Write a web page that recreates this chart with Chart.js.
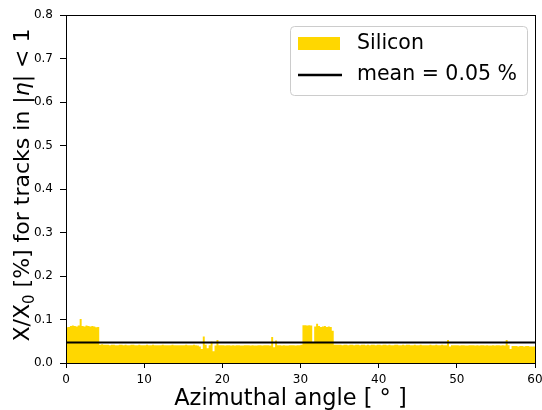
<!DOCTYPE html>
<html>
<head>
<meta charset="utf-8">
<script src="https://cdn.jsdelivr.net/npm/chart.js@4/dist/chart.umd.min.js"></script>
<style>
  html, body { margin: 0; padding: 0; background: #fff; }
  #wrap { width: 542px; height: 410px; }
</style>
</head>
<body>
<div id="wrap"><canvas id="c" width="542" height="410"></canvas></div>
<script>
// Material budget per azimuthal bin (0.25 deg wide), in % of X0
const binWidth = 0.25;
const phiMin = 0;
const phiMax = 60;
const silicon = [
  // 0 - 5 deg
  0.045,0.082,0.083,0.085,0.086,0.085,0.084,0.086,0.101,0.085,0.084,0.086,0.085,0.084,0.085,0.084,0.082,0.083,0.042,0.043,
  // 5 - 10 deg
  0.042,0.042,0.042,0.041,0.042,0.042,0.041,0.041,0.042,0.042,0.041,0.042,0.041,0.041,0.042,0.042,0.041,0.041,0.042,0.041,
  // 10 - 15 deg
  0.041,0.041,0.042,0.041,0.041,0.042,0.041,0.041,0.041,0.041,0.042,0.041,0.041,0.041,0.041,0.042,0.041,0.041,0.041,0.041,
  // 15 - 20 deg
  0.041,0.041,0.042,0.041,0.041,0.041,0.042,0.041,0.040,0.038,0.032,0.061,0.042,0.034,0.041,0.049,0.027,0.040,0.053,0.041,
  // 20 - 25 deg
  0.041,0.041,0.040,0.041,0.041,0.040,0.041,0.040,0.041,0.041,0.040,0.040,0.041,0.041,0.041,0.040,0.041,0.040,0.040,0.041,
  // 25 - 30 deg
  0.041,0.040,0.041,0.041,0.041,0.040,0.060,0.036,0.052,0.041,0.041,0.040,0.041,0.040,0.040,0.041,0.041,0.041,0.040,0.041,
  // 30 - 35 deg
  0.041,0.042,0.087,0.087,0.086,0.087,0.086,0.046,0.084,0.090,0.085,0.083,0.084,0.085,0.083,0.084,0.083,0.074,0.042,0.042,
  // 35 - 40 deg
  0.042,0.042,0.041,0.042,0.042,0.041,0.042,0.042,0.041,0.042,0.042,0.041,0.042,0.042,0.041,0.042,0.041,0.042,0.042,0.041,
  // 40 - 45 deg
  0.042,0.042,0.041,0.042,0.042,0.041,0.042,0.041,0.041,0.042,0.042,0.041,0.041,0.042,0.041,0.042,0.042,0.041,0.041,0.042,
  // 45 - 50 deg
  0.041,0.041,0.042,0.041,0.041,0.041,0.041,0.042,0.041,0.041,0.042,0.041,0.041,0.042,0.041,0.041,0.053,0.038,0.041,0.041,
  // 50 - 55 deg
  0.041,0.041,0.040,0.041,0.041,0.040,0.040,0.041,0.041,0.041,0.040,0.041,0.040,0.041,0.041,0.040,0.041,0.040,0.040,0.041,
  // 55 - 60 deg
  0.040,0.041,0.041,0.040,0.041,0.040,0.053,0.041,0.032,0.039,0.039,0.039,0.038,0.039,0.039,0.038,0.039,0.039,0.038,0.038
];
const yTicks = [0.0, 0.1, 0.2, 0.3, 0.4, 0.5, 0.6, 0.7, 0.8];
const xTicks = [0, 10, 20, 30, 40, 50, 60];

const meanValue = silicon.reduce((a, b) => a + b, 0) / silicon.length;
const meanLabel = 'mean = ' + meanValue.toFixed(2) + ' %';

// step outline: each bin starts at its left edge, closing point at phiMax
const histPoints = silicon.map((v, i) => ({ x: phiMin + i * binWidth, y: v }));
histPoints.push({ x: phiMax, y: silicon[silicon.length - 1] });

const FONT = '"DejaVu Sans", "Liberation Sans", sans-serif';
const GOLD = '#FFD700';

// frame on all four sides of the plot area
const framePlugin = {
  id: 'frame',
  afterDatasetsDraw(chart) {
    const { ctx, chartArea: a } = chart;
    ctx.save();
    ctx.strokeStyle = '#000';
    ctx.lineWidth = 1;
    ctx.strokeRect(Math.round(a.left) + 0.5, Math.round(a.top) + 0.5,
                   Math.round(a.right - a.left), Math.round(a.bottom - a.top));
    ctx.restore();
  }
};

// axis titles: the y title mixes a subscript and an italic eta
const titlePlugin = {
  id: 'axisTitles',
  afterDraw(chart) {
    const { ctx, chartArea: a } = chart;
    ctx.save();
    ctx.fillStyle = '#000';
    ctx.textBaseline = 'alphabetic';

    // x title
    ctx.font = '22.5px ' + FONT;
    ctx.textAlign = 'center';
    ctx.fillText('Azimuthal angle [ ° ]', (a.left + a.right) / 2 - 10, a.bottom + 42);

    // y title, written bottom-to-top
    const main = '22px ' + FONT;
    const sub = '15px ' + FONT;
    const ital = 'italic 22px ' + FONT;
    const parts = [
      { t: 'X/X', f: main, dy: 0 },
      { t: '0', f: sub, dy: 5 },
      { t: ' [%] for tracks in |', f: main, dy: 0 },
      { t: 'η', f: ital, dy: 0 },
      { t: '| < 1', f: main, dy: 0 }
    ];
    let total = 0;
    parts.forEach(p => { ctx.font = p.f; p.w = ctx.measureText(p.t).width; total += p.w; });
    ctx.translate(29, (a.top + a.bottom) / 2 - 4);
    ctx.rotate(-Math.PI / 2);
    ctx.textAlign = 'left';
    let x = -total / 2;
    parts.forEach(p => {
      ctx.font = p.f;
      ctx.fillText(p.t, x, p.dy);
      x += p.w;
    });
    ctx.restore();
  }
};

// legend box in the upper right corner of the plot area
const legendPlugin = {
  id: 'boxLegend',
  afterDraw(chart) {
    const { ctx, chartArea: a } = chart;
    const w = 237, h = 69;
    const x = a.right - 8 - w, y = a.top + 11;
    ctx.save();
    ctx.beginPath();
    ctx.roundRect(x + 0.5, y + 0.5, w, h, 4);
    ctx.fillStyle = 'rgba(255,255,255,0.8)';
    ctx.fill();
    ctx.strokeStyle = '#cccccc';
    ctx.lineWidth = 1;
    ctx.stroke();

    ctx.fillStyle = GOLD;
    ctx.fillRect(x + 8, y + 11, 42, 13);
    ctx.strokeStyle = '#000';
    ctx.lineWidth = 2.5;
    ctx.beginPath();
    ctx.moveTo(x + 8, y + 49);
    ctx.lineTo(x + 52, y + 49);
    ctx.stroke();

    ctx.fillStyle = '#000';
    ctx.font = '20.5px ' + FONT;
    ctx.textBaseline = 'middle';
    ctx.textAlign = 'left';
    ctx.fillText('Silicon', x + 67, y + 18);
    ctx.fillText(meanLabel, x + 67, y + 49);
    ctx.restore();
  }
};

new Chart(document.getElementById('c'), {
  type: 'line',
  data: {
    datasets: [
      {
        label: 'Silicon',
        data: histPoints,
        stepped: 'after',
        fill: 'origin',
        backgroundColor: GOLD,
        borderColor: GOLD,
        borderWidth: 0,
        pointRadius: 0,
        order: 2
      },
      {
        label: meanLabel,
        data: [{ x: phiMin, y: meanValue }, { x: phiMax, y: meanValue }],
        borderColor: '#000',
        borderWidth: 2,
        pointRadius: 0,
        fill: false,
        order: 1
      }
    ]
  },
  options: {
    responsive: false,
    animation: false,
    devicePixelRatio: 1,
    layout: { padding: { left: 0, right: 7, top: 15, bottom: 0 } },
    plugins: { legend: { display: false }, tooltip: { enabled: false } },
    scales: {
      x: {
        type: 'linear',
        min: phiMin,
        max: phiMax,
        afterBuildTicks(scale) { scale.ticks = xTicks.map(v => ({ value: v })); },
        afterFit(scale) { scale.height = 47; scale.paddingRight = 0; scale.paddingLeft = 0; },
        ticks: {
          font: { family: FONT, size: 12 },
          color: '#000',
          padding: 5,
          maxRotation: 0,
          callback: v => String(v)
        },
        grid: { drawOnChartArea: false, tickLength: 5, color: '#000' },
        border: { display: false },
        title: { display: false }
      },
      y: {
        min: 0,
        max: 0.8,
        afterBuildTicks(scale) { scale.ticks = yTicks.map(v => ({ value: v })); },
        afterFit(scale) { scale.width = 66; scale.paddingTop = 0; scale.paddingBottom = 0; },
        ticks: {
          font: { family: FONT, size: 12 },
          color: '#000',
          padding: 7,
          callback: v => Number(v).toFixed(1)
        },
        grid: { drawOnChartArea: false, tickLength: 6, color: '#000' },
        border: { display: false },
        title: { display: false }
      }
    }
  },
  plugins: [framePlugin, titlePlugin, legendPlugin]
});
</script>
</body>
</html>
